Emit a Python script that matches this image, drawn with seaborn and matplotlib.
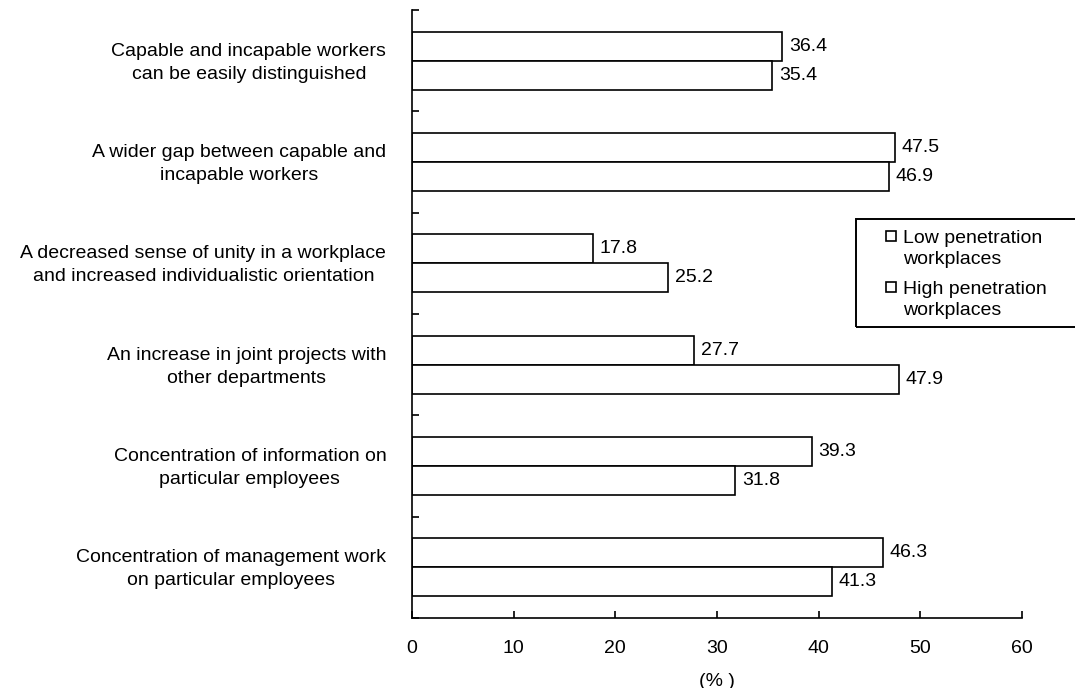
import matplotlib
matplotlib.use("Agg")
import matplotlib.pyplot as plt
from matplotlib.patches import Rectangle
from matplotlib.legend_handler import HandlerPatch
from matplotlib.transforms import ScaledTranslation
import seaborn as sns
import pandas as pd
import numpy as np

categories = [
    "Capable and incapable workers\ncan be easily distinguished",
    "A wider gap between capable and\nincapable workers",
    "A decreased sense of unity in a workplace\nand increased individualistic orientation",
    "An increase in joint projects with\nother departments",
    "Concentration of information on\nparticular employees",
    "Concentration of management work\non particular employees",
]
series_names = ["Low penetration\nworkplaces", "High penetration\nworkplaces"]
low_values = [36.4, 47.5, 17.8, 27.7, 39.3, 46.3]
high_values = [35.4, 46.9, 25.2, 47.9, 31.8, 41.3]
x_ticks = [0, 10, 20, 30, 40, 50, 60]

df = pd.DataFrame({
    "category": categories * 2,
    "value": low_values + high_values,
    "group": [series_names[0]] * len(categories) + [series_names[1]] * len(categories),
})

sns.set_theme(style="white")
plt.rcParams["font.family"] = ["Liberation Sans", "DejaVu Sans"]
plt.rcParams["text.color"] = "black"
plt.rcParams["axes.labelcolor"] = "black"
plt.rcParams["xtick.color"] = "black"
plt.rcParams["ytick.color"] = "black"

FS = 14.0
W, H = 1075, 688

fig = plt.figure(figsize=(W / 100, H / 100), dpi=100)
ax = fig.add_axes([412 / W, 1 - 618 / H, 610 / W, 608 / H])

sns.barplot(data=df, y="category", x="value", hue="group", orient="h",
            palette=["white", "white"], edgecolor="black", linewidth=1.2,
            width=0.57, ax=ax, legend=True)

for container in ax.containers:
    ax.bar_label(container, fmt="%.1f", padding=5, fontsize=FS, color="black")

ax.set_xlim(0, 60)
ax.set_ylim(len(categories) - 0.5, -0.5)
ax.set_xticks(x_ticks)
ax.set_xticklabels([str(t) for t in x_ticks], fontsize=FS)
ax.set_xlabel("(% )", fontsize=FS, labelpad=11)
ax.set_ylabel("")
ax.tick_params(axis="x", bottom=True, direction="in", length=5, width=1.2, pad=16)
ax.tick_params(axis="y", which="major", left=True, length=0, pad=18.5, labelsize=FS)
ax.set_yticks(np.arange(-0.5, len(categories), 1.0), minor=True)
ax.tick_params(axis="y", which="minor", left=True, direction="in", length=5, width=1.2)
lift = ScaledTranslation(0, 3 / 100, fig.dpi_scale_trans)
for lbl in ax.get_yticklabels():
    lbl.set_multialignment("center")
    lbl.set_linespacing(1.46)
    lbl.set_transform(lbl.get_transform() + lift)

for side in ["top", "right"]:
    ax.spines[side].set_visible(False)
for side in ["left", "bottom"]:
    ax.spines[side].set_color("black")
    ax.spines[side].set_linewidth(1.2)


def top_aligned_square(legend, orig_handle, xdescent, ydescent, width, height, fontsize):
    # square marker sitting beside the first line of a two-line label
    side = width
    return Rectangle((-xdescent, -ydescent + 0.68 * fontsize), side, side)


leg = ax.legend(loc="upper left", bbox_to_anchor=(886 / W, 1 - 230 / H),
                bbox_transform=fig.transFigure, fontsize=FS, frameon=False,
                handlelength=0.5, handleheight=0.5, handletextpad=0.36,
                borderpad=0, labelspacing=0.66, borderaxespad=0,
                handler_map={matplotlib.patches.Rectangle: HandlerPatch(patch_func=top_aligned_square)})
for t in leg.get_texts():
    t.set_linespacing(1.3)
for h in leg.legend_handles:
    h.set_linewidth(1.2)
    h.set_edgecolor("black")
    h.set_facecolor("white")

# legend frame running off the right edge of the figure
fig.patches.append(Rectangle((856 / W, 1 - 327 / H), (W + 10 - 856) / W, 108 / H,
                             transform=fig.transFigure, fill=False,
                             edgecolor="black", linewidth=1.4, clip_on=False))

fig.savefig("out.png", dpi=100)
